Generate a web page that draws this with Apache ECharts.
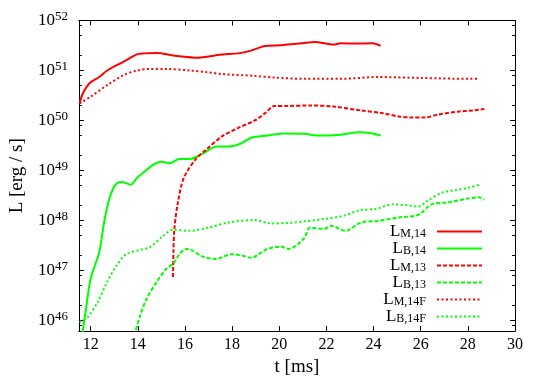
<!DOCTYPE html>
<html>
<head>
<meta charset="utf-8">
<title>Luminosity vs time</title>
<script src="https://cdn.jsdelivr.net/npm/echarts@6/dist/echarts.min.js"></script>
<style>
  html, body { margin: 0; padding: 0; background: #fff; }
  #chart { width: 545px; height: 382px; }
</style>
</head>
<body>
<div id="chart"></div>
<script>
// t [ms] / L [erg/s]
const tM14 = [11.53, 11.67, 11.94, 12.36, 12.7, 13.4, 13.96, 14.24, 14.8, 15.5, 16.6, 17.15, 17.57, 18.26, 18.8, 19.4, 20.07, 20.97, 21.5, 22.3, 22.6, 23.26, 23.96, 24.3];
const lM14 = [2.2e50, 3.5e50, 5.5e50, 7.4e50, 1.0e51, 1.5e51, 2.1e51, 2.2e51, 2.25e51, 2.0e51, 1.8e51, 1.95e51, 2.1e51, 2.2e51, 2.5e51, 3.1e51, 3.2e51, 3.5e51, 3.7e51, 3.3e51, 3.5e51, 3.45e51, 3.5e51, 3.1e51];

const tB14 = [11.62, 11.8, 12.0, 12.36, 12.57, 12.78, 13.05, 13.33, 13.7, 13.96, 14.24, 14.65, 15.0, 15.35, 15.76, 16.2, 16.7, 17.36, 17.85, 18.4, 18.8, 19.5, 20.2, 21.04, 21.74, 22.6, 23.4, 23.96, 24.3];
const lB14 = [4.5e45, 1.7e46, 6.8e46, 2.3e47, 9.1e47, 2.6e48, 5.2e48, 5.9e48, 5.2e48, 7.1e48, 9.1e48, 1.3e49, 1.5e49, 1.4e49, 1.7e49, 1.7e49, 2.1e49, 3.0e49, 3.0e49, 3.5e49, 4.5e49, 5.0e49, 5.5e49, 5.4e49, 5.0e49, 5.2e49, 5.8e49, 5.5e49, 5.0e49];

const tM13 = [15.49, 15.51, 15.55, 15.7, 15.95, 16.46, 16.9, 17.57, 18.26, 18.96, 19.4, 19.8, 20.35, 21.3, 22.3, 23.4, 24.4, 25.07, 25.6, 26.2, 26.7, 27.57, 28.26, 28.7];
const lM13 = [7.4e46, 2.3e47, 6.8e47, 2.3e48, 7.1e48, 1.7e49, 2.6e49, 4.8e49, 7.1e49, 1.0e50, 1.4e50, 1.95e50, 1.95e50, 2.0e50, 1.9e50, 1.6e50, 1.4e50, 1.2e50, 1.15e50, 1.15e50, 1.3e50, 1.5e50, 1.6e50, 1.7e50];

const tB13 = [13.85, 14.1, 14.38, 14.8, 15.2, 15.49, 15.76, 16.04, 16.32, 16.74, 17.3, 17.99, 18.4, 18.8, 19.5, 20.07, 20.4, 21.04, 21.3, 21.9, 22.2, 22.8, 23.47, 24.2, 25.07, 25.9, 26.46, 27.15, 28.0, 28.47, 28.7];
const lB13 = [5.0e45, 1.26e46, 2.75e46, 5.9e46, 1.07e47, 1.35e47, 2.1e47, 2.7e47, 2.5e47, 1.9e47, 1.7e47, 2.1e47, 2.0e47, 1.8e47, 2.7e47, 3.0e47, 2.7e47, 4.3e47, 7.2e47, 6.8e47, 7.8e47, 6.2e47, 9.1e47, 9.8e47, 1.15e48, 1.3e48, 2.1e48, 2.3e48, 2.75e48, 2.9e48, 2.6e48];

const tM14F = [11.53, 12.0, 12.7, 13.4, 13.96, 14.5, 15.2, 16.2, 16.9, 17.57, 18.96, 19.8, 21.1, 22.6, 24.2, 26.0, 28.1, 28.5];
const lM14F = [2.2e50, 3.0e50, 5.1e50, 8.1e50, 1.0e51, 1.07e51, 1.07e51, 1.0e51, 9.3e50, 8.5e50, 7.8e50, 7.2e50, 6.8e50, 6.8e50, 7.4e50, 7.1e50, 6.8e50, 6.9e50];

const tB14F = [11.53, 11.88, 12.29, 12.7, 13.1, 13.5, 14.1, 14.5, 15.07, 15.49, 16.2, 17.0, 17.85, 18.96, 19.65, 20.35, 21.04, 21.9, 22.7, 23.4, 24.1, 24.8, 25.5, 25.9, 26.3, 26.9, 27.57, 28.1, 28.5];
const lB14F = [9.3e45, 1.17e46, 2.3e46, 5.9e46, 1.26e47, 2.1e47, 2.6e47, 2.9e47, 4.9e47, 6.5e47, 6.2e47, 7.2e47, 9.1e47, 1.02e48, 8.7e47, 8.9e47, 9.5e47, 1.07e48, 1.23e48, 1.6e48, 1.7e48, 2.1e48, 2.0e48, 1.9e48, 2.5e48, 3.6e48, 4.1e48, 4.6e48, 5.2e48];

const xTicks = [12, 14, 16, 18, 20, 22, 24, 26, 28, 30];
const yMajor = [1e46, 1e47, 1e48, 1e49, 1e50, 1e51, 1e52];
const yMinor = [8e45, 2e46, 5e46, 8e46, 2e47, 5e47, 8e47, 2e48, 5e48, 8e48, 2e49, 5e49, 8e49,
                2e50, 5e50, 8e50, 2e51, 5e51, 8e51];

const X_MIN = 11.5, X_MAX = 30;
const Y_MIN = 6.12e45, Y_MAX = 1e52;
const FONT = 'Liberation Serif';
const RED = '#ff0000', GREEN = '#00ff00';

const defs = [
    { name: 'L_M,14',  t: tM14,  l: lM14,  color: RED,   dash: 'solid' },
    { name: 'L_B,14',  t: tB14,  l: lB14,  color: GREEN, dash: 'solid' },
    { name: 'L_M,13',  t: tM13,  l: lM13,  color: RED,   dash: [4, 2] },
    { name: 'L_B,13',  t: tB13,  l: lB13,  color: GREEN, dash: [4, 2] },
    { name: 'L_M,14F', t: tM14F, l: lM14F, color: RED,   dash: [2, 2.5] },
    { name: 'L_B,14F', t: tB14F, l: lB14F, color: GREEN, dash: [2, 2.5] }
];

// the top decade sits exactly on max; nudge it inside so the tick/label is kept
const inRange = v => (v >= Y_MAX ? Y_MAX * 0.9999999 : v);

const chart = echarts.init(document.getElementById('chart'));

function xAxisDef(pos, labels) {
    return {
        type: 'value', position: pos, min: X_MIN, max: X_MAX,
        axisLine: { show: true, onZero: false, lineStyle: { color: '#000', width: 1 } },
        axisTick: { show: true, inside: true, length: 5, customValues: xTicks, lineStyle: { color: '#000' } },
        axisLabel: { show: labels, customValues: xTicks, margin: 6, color: '#000', fontFamily: FONT, fontSize: 16 },
        splitLine: { show: false },
        name: labels ? 't [ms]' : '', nameLocation: 'middle', nameGap: 17,
        nameTextStyle: { color: '#000', fontFamily: FONT, fontSize: 19 }
    };
}

function yAxisDef(pos, minor, labels) {
    return {
        type: 'log', logBase: 10, position: pos, min: Y_MIN, max: Y_MAX,
        axisLine: { show: !minor, lineStyle: { color: '#000', width: 1 } },
        axisTick: { show: true, inside: true, length: minor ? 3 : 5,
                    customValues: (minor ? yMinor : yMajor).map(inRange), lineStyle: { color: '#000' } },
        axisLabel: {
            show: labels, customValues: yMajor.map(inRange), margin: 11, color: '#000',
            formatter: v => '{b|10}{s|' + Math.round(Math.log10(v)) + '}',
            rich: {
                b: { fontFamily: FONT, fontSize: 17, color: '#000', lineHeight: 20, verticalAlign: 'middle' },
                s: { fontFamily: FONT, fontSize: 13, color: '#000', lineHeight: 4, verticalAlign: 'top' }
            }
        },
        splitLine: { show: false },
        name: labels ? 'L [erg / s]' : '', nameLocation: 'middle', nameGap: 47,
        nameTextStyle: { color: '#000', fontFamily: FONT, fontSize: 19 }
    };
}

const option = {
    animation: false,
    backgroundColor: '#fff',
    grid: { left: 71.3, right: 30, top: 20.5, bottom: 49 },
    xAxis: [xAxisDef('bottom', true), xAxisDef('top', false)],
    yAxis: [
        yAxisDef('left', false, true),
        yAxisDef('left', true, false),
        yAxisDef('right', false, false),
        yAxisDef('right', true, false)
    ],
    legend: {
        orient: 'vertical', align: 'right', right: 62, top: 223, padding: 0,
        itemGap: 0, itemWidth: 45, itemHeight: 10,
        itemStyle: { opacity: 0 },
        data: defs.map(d => d.name),
        formatter: name => '{b|L}{s|' + name.slice(2) + '}',
        textStyle: {
            rich: {
                b: { fontFamily: FONT, fontSize: 17, color: '#000', lineHeight: 16.7 },
                s: { fontFamily: FONT, fontSize: 12, color: '#000', lineHeight: 4, verticalAlign: 'bottom', padding: [0, 6, 0, 0] }
            }
        }
    },
    series: defs.map(d => ({
        name: d.name,
        type: 'line',
        xAxisIndex: 0,
        yAxisIndex: 0,
        data: d.t.map((t, i) => [t, d.l[i]]),
        symbol: 'none',
        smooth: 0.3,
        clip: true,
        color: d.color,
        lineStyle: { color: d.color, width: 2, type: d.dash }
    }))
};

chart.setOption(option);
window.addEventListener('resize', () => chart.resize());
</script>
</body>
</html>
